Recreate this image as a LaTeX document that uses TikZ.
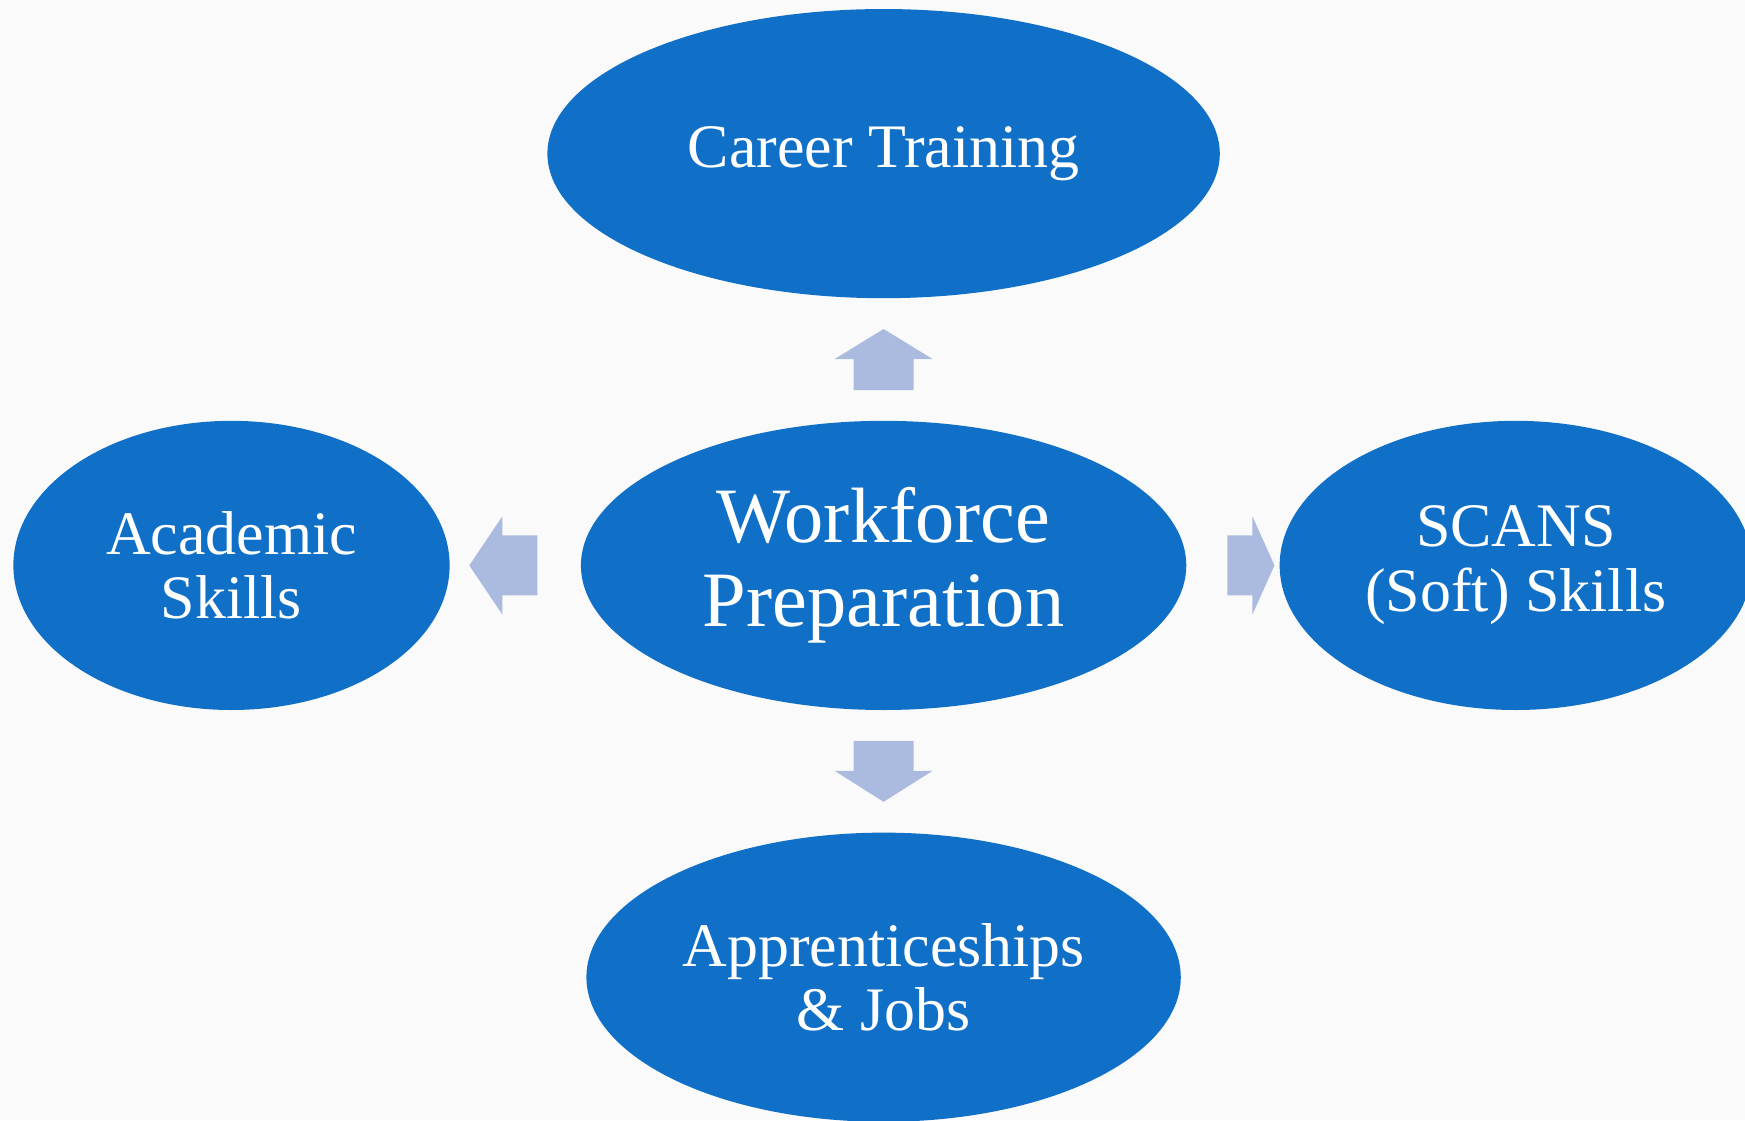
\documentclass[tikz,border=0pt]{standalone}
\usepackage{fontspec}
\setmainfont{Liberation Serif}
\definecolor{ovalblue}{RGB}{16, 112, 199}
\definecolor{arrowblue}{RGB}{171, 187, 224}
\definecolor{bggray}{RGB}{250, 250, 250}
\usetikzlibrary{shapes.geometric, calc}

\tikzset{
  oval/.style={ellipse, fill=ovalblue, text=white, align=center, inner sep=0pt, minimum height=2.89cm, font=\fontsize{17.6}{18.4}\selectfont},
  pics/blockarrow/.style n args={2}{code={
    \fill[arrowblue] ({-#1/2},-30) -- ({#1/2-#2},-30) -- ({#1/2-#2},-49) -- ({#1/2},0)
      -- ({#1/2-#2},49) -- ({#1/2-#2},30) -- ({-#1/2},30) -- cycle;
  }}
}

\begin{document}
\begin{tikzpicture}[x=0.01cm, y=-0.01cm]
  % Page
  \fill[bggray] (0,0) rectangle (1745,1120);
  \useasboundingbox (0,0) rectangle (1745,1120);
  \clip (0,0) rectangle (1745,1120);

  % Ovals
  \node[oval, minimum width=6.72cm] (career) at (883.6, 153.6) {Career Training};
  \node[oval, minimum width=6.05cm, font=\fontsize{22.3}{24}\selectfont] (prep) at (883.6, 565.4) {Workforce\\Preparation};
  \node[oval, minimum width=4.36cm] (academic) at (231.5, 565.4) {Academic\\Skills};
  \node[oval, minimum width=4.72cm] (scans) at (1515.8, 565.4) {SCANS\\(Soft) Skills};
  \node[oval, minimum width=5.94cm] (jobs) at (883.6, 977.2) {Apprenticeships\\\& Jobs};

  % Arrows
  \pic[rotate=90] at ($(career.south)!0.5!(prep.north)$) {blockarrow={61}{30}};
  \pic[rotate=-90] at ($(prep.south)!0.5!(jobs.north)$) {blockarrow={61}{31}};
  \pic[rotate=180] at ($(academic.east)!0.5!(prep.west)+(-12,0)$) {blockarrow={68}{33}};
  \pic at ($(prep.east)!0.5!(scans.west)+(18,0)$) {blockarrow={47}{22}};
\end{tikzpicture}
\end{document}
